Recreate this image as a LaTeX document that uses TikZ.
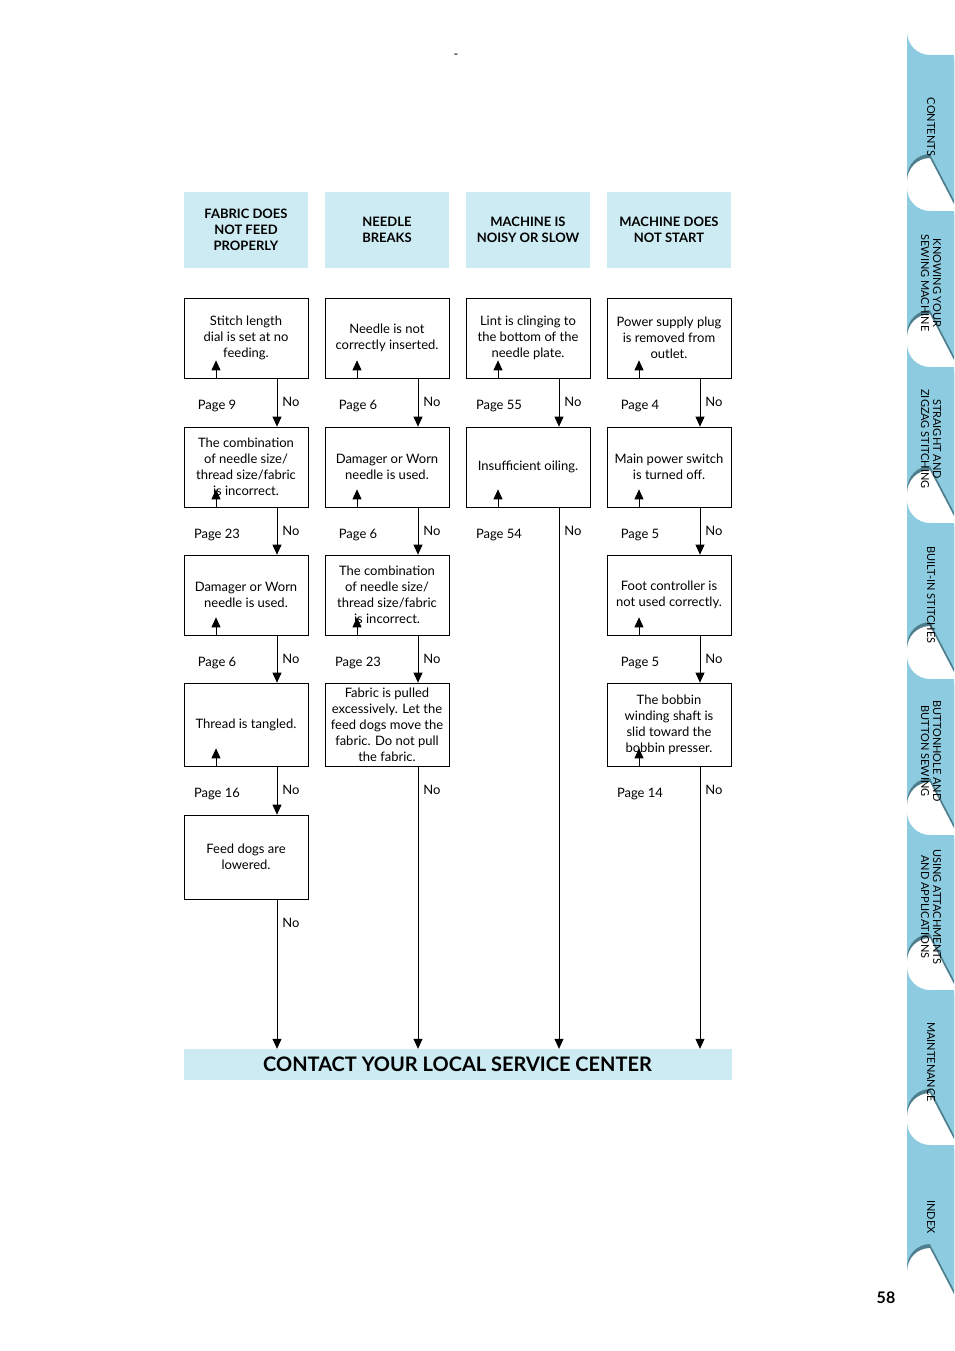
\documentclass[tikz,border=0pt]{standalone}
\usepackage{fontspec}
\setmainfont{Lato}
\usetikzlibrary{arrows.meta}
\definecolor{hdr}{HTML}{CDEBF3}
\definecolor{tab}{HTML}{8DCBE0}
\definecolor{tabsh}{HTML}{4F7F8E}
\begin{document}
\begin{tikzpicture}[x=1pt,y=-1pt,
 box/.style={draw,line width=0.7pt,minimum width=124pt,align=center,inner sep=1pt,font=\fontsize{13}{16}\selectfont},
 head/.style={fill=hdr,minimum width=124pt,minimum height=76pt,align=center,font=\bfseries\fontsize{13}{16}\selectfont},
 arr/.style={line width=0.8pt,-{Triangle[width=9pt,length=10pt]}},
 lab/.style={font=\fontsize{13}{16}\selectfont,inner sep=0pt},
 tabtxt/.style={rotate=-90,align=center,font=\fontsize{11}{12}\selectfont}]
\useasboundingbox (0,0) rectangle (954,1351);
% tabs
\foreach \t/\txt in {55/CONTENTS,211/KNOWING YOUR\\SEWING MACHINE,367/STRAIGHT AND\\ZIGZAG STITCHING,523/BUILT-IN STITCHES,679/BUTTONHOLE AND\\BUTTON SEWING,835/USING ATTACHMENTS\\AND APPLICATIONS,990/MAINTENANCE,1145/INDEX}{
 \fill[tabsh] (954,\t+4) -- (930,\t+4) arc[start angle=90,end angle=180,radius=23] -- (907,\t+126) arc[start angle=180,end angle=270,radius=23] -- (954,\t+149) -- cycle;
 \fill[tab] (954,\t) -- (930,\t) arc[start angle=90,end angle=180,radius=23] -- (907,\t+122) arc[start angle=180,end angle=270,radius=23] -- (954,\t+145) -- cycle;
 \node[tabtxt] at (931,\t+72) {\txt};
}
\node[font=\bfseries\fontsize{16}{18}\selectfont] (pg) at (886,1298) {58};
\node[lab] (dash) at (456,56) {-};
% headers
\node[head] (h1) at (246,230) {FABRIC DOES\\NOT FEED\\PROPERLY};
\node[head] (h2) at (387,230) {NEEDLE\\BREAKS};
\node[head] (h3) at (528,230) {MACHINE IS\\NOISY OR SLOW};
\node[head] (h4) at (669,230) {MACHINE DOES\\NOT START};
% boxes
\node[box,minimum height=80pt] (a1) at (246,338) {Stitch length\\dial is set at no\\feeding.};
\node[box,minimum height=80pt] (a2) at (246,467) {The combination\\of needle size/\\thread size/fabric\\is incorrect.};
\node[box,minimum height=80pt] (a3) at (246,595) {Damager or Worn\\needle is used.};
\node[box,minimum height=83pt] (a4) at (246,724.5) {Thread is tangled.};
\node[box,minimum height=84pt] (a5) at (246,857) {Feed dogs are\\lowered.};
\node[box,minimum height=80pt] (b1) at (387,338) {Needle is not\\correctly inserted.};
\node[box,minimum height=80pt] (b2) at (387,467) {Damager or Worn\\needle is used.};
\node[box,minimum height=80pt] (b3) at (387,595) {The combination\\of needle size/\\thread size/fabric\\is incorrect.};
\node[box,minimum height=83pt] (b4) at (387,724.5) {Fabric is pulled\\excessively. Let the\\feed dogs move the\\fabric. Do not pull\\the fabric.};
\node[box,minimum height=80pt] (c1) at (528,338) {Lint is clinging to\\the bottom of the\\needle plate.};
\node[box,minimum height=80pt] (c2) at (528,467) {Insufficient oiling.};
\node[box,minimum height=80pt] (d1) at (669,338) {Power supply plug\\is removed from\\outlet.};
\node[box,minimum height=80pt] (d2) at (669,467) {Main power switch\\is turned off.};
\node[box,minimum height=80pt] (d3) at (669,595) {Foot controller is\\not used correctly.};
\node[box,minimum height=83pt] (d4) at (669,724.5) {The bobbin\\winding shaft is\\slid toward the\\bobbin presser.};
\node[fill=hdr,minimum width=548pt,minimum height=31pt,inner sep=0pt,font=\bfseries\fontsize{20}{22}\selectfont] (bar) at (457.5,1064.5) {CONTACT YOUR LOCAL SERVICE CENTER};
% page stubs
\newcommand{\pstep}[2]{%
 \draw[arr] ([xshift=-30pt]#1.south) -- ++(0,-18);
 \node[lab] at ([xshift=-29pt,yshift=-28pt]#1.south) {#2};}
\newcommand{\nolab}[1]{\node[lab] at ([xshift=45pt,yshift=-24pt]#1.south) {No};}
\newcommand{\nstep}[2]{\draw[arr] ([xshift=31pt]#1.south) -- ([xshift=31pt]#2.north); \nolab{#1}}
\newcommand{\nbar}[1]{\coordinate (e#1) at ([xshift=31pt]#1.south |- bar.north); \draw[arr] ([xshift=31pt]#1.south) -- (e#1);}
\pstep{a1}{Page 9}\nstep{a1}{a2}
\pstep{a2}{Page 23}\nstep{a2}{a3}
\pstep{a3}{Page 6}\nstep{a3}{a4}
\pstep{a4}{Page 16}\nstep{a4}{a5}
\nbar{a5}\nolab{a5}
\pstep{b1}{Page 6}\nstep{b1}{b2}
\pstep{b2}{Page 6}\nstep{b2}{b3}
\pstep{b3}{Page 23}\nstep{b3}{b4}
\nbar{b4}\nolab{b4}
\pstep{c1}{Page 55}\nstep{c1}{c2}
\pstep{c2}{Page 54}\nbar{c2}\nolab{c2}
\pstep{d1}{Page 4}\nstep{d1}{d2}
\pstep{d2}{Page 5}\nstep{d2}{d3}
\pstep{d3}{Page 5}\nstep{d3}{d4}
\pstep{d4}{Page 14}\nbar{d4}\nolab{d4}
\end{tikzpicture}
\end{document}
